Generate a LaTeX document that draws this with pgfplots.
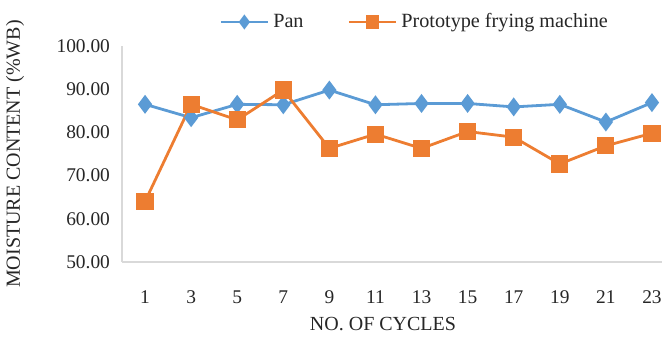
\documentclass[border=0pt]{standalone}
\usepackage{pgfplots}
\pgfplotsset{compat=1.18}
\usepackage{fontspec}
\setmainfont{Liberation Serif}
\definecolor{exblue}{HTML}{5B9BD5}
\definecolor{exorange}{HTML}{ED7D31}
\definecolor{axgray}{HTML}{D9D9D9}
\begin{document}
\begin{tikzpicture}
\begin{axis}[
  name=ax,
  scale only axis,
  width=276.5pt, height=108pt,
  xmin=0, xmax=24, ymin=50, ymax=100,
  xtick={1,3,...,23},
  ytick={50,60,70,80,90,100},
  major tick length=0pt,
  axis x line*=bottom, axis y line*=left,
  axis line style={axgray, line width=0.8pt, -},
  yticklabel style={/pgf/number format/fixed, /pgf/number format/precision=2, /pgf/number format/fixed zerofill, xshift=-2.5pt},
  xticklabel style={yshift=-11pt},
  /pgf/number format/assume math mode=true,
  tick label style={font=\fontsize{9.7}{11}\selectfont, text=black!85},
  ylabel={MOISTURE CONTENT (\%WB)},
  xlabel={NO. OF CYCLES},
  label style={font=\fontsize{10}{11}\selectfont, text=black!85},
  ylabel style={at={(axis description cs:-0.1935,0.5)}, anchor=center},
  xlabel style={at={(axis description cs:0.472,0)}, anchor=center, yshift=-31pt},
  legend style={at={(axis description cs:0.531,1)}, anchor=center, yshift=12pt, draw=none, fill=none,
    font=\fontsize{10.1}{11}\selectfont, text=black!85, legend columns=2,
    /tikz/every even column/.append style={column sep=20pt}},
  legend cell align=left,
  legend image code/.code={
    \draw[mark repeat=2,mark phase=2,#1, mark size=2.6pt] plot coordinates {(0pt,0pt) (11.75pt,0pt) (23.5pt,0pt)};
  },
]
\addplot[exblue, line width=1.4pt, mark=diamond*, mark size=3.6pt, mark options={fill=exblue, draw=exblue}] coordinates {
(1,86.5) (3,83.4) (5,86.5) (7,86.4) (9,89.8) (11,86.4) (13,86.7) (15,86.7) (17,85.9) (19,86.5) (21,82.4) (23,86.9)
};
\addlegendentry{Pan}
\addplot[exorange, line width=1.4pt, mark=square*, mark size=3.6pt, mark options={fill=exorange, draw=exorange}] coordinates {
(1,64.0) (3,86.5) (5,82.9) (7,89.8) (9,76.3) (11,79.6) (13,76.3) (15,80.2) (17,78.9) (19,72.7) (21,76.9) (23,79.8)
};
\addlegendentry{Prototype frying machine}
\end{axis}
\pgfresetboundingbox
\path ([xshift=-61pt,yshift=-39.5pt]ax.south west) rectangle ([xshift=-6.5pt,yshift=23pt]ax.north east);
\end{tikzpicture}
\end{document}
